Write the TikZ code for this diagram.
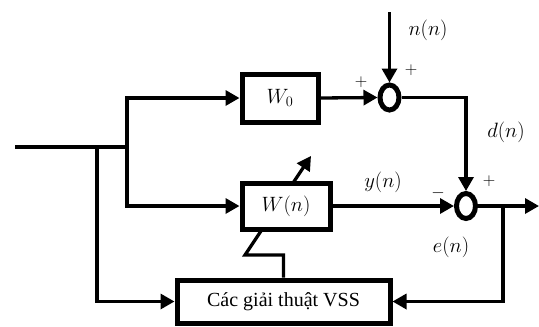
\documentclass[tikz,border=0pt]{standalone}
\usepackage{fontspec}
\setmainfont{Liberation Serif}
\usetikzlibrary{arrows.meta,shapes.geometric}
\pgfdeclarelayer{bg}
\pgfsetlayers{bg,main}

\begin{document}
\begin{tikzpicture}[x=1pt,y=-1pt,
  blk/.style={draw, line width=5pt, fill=white, inner sep=0pt,
    font=\fontsize{21}{24}\selectfont},
  sumnode/.style={draw, ellipse, line width=5pt, fill=white, inner sep=0pt,
    minimum width=19pt, minimum height=25pt},
  wire/.style={line width=3.3pt},
  arr/.style={wire, -{Triangle[length=14pt,width=15pt]}},
  lbl/.style={font=\fontsize{22}{26}\selectfont, inner sep=0pt},
  sgn/.style={font=\fontsize{18}{20}\selectfont, inner sep=0pt}
]
\useasboundingbox (0,0) rectangle (539,327);

% blocks
\node[blk, minimum width=76pt, minimum height=48pt] (w0) at (280,98) {$W_0$};
\node[blk, minimum width=88pt, minimum height=46pt] (wn) at (286,206) {$W(n)$};
\node[blk, minimum width=213pt, minimum height=43pt, font=\fontsize{20}{24}\selectfont] (vss) at (283.5,301.5) {Các giải thuật VSS};

% summing junctions
\node[sumnode] (s1) at (389.5,97.5) {};
\node[sumnode] (s2) at (466,206) {};

% helper points
\coordinate (in) at (15,147);
\coordinate (j1) at (97,147);
\coordinate (j2) at (127,147);
\coordinate (nin) at (389.5,12);
\coordinate (j3) at (503,206);
\coordinate (out) at (539,206);
\coordinate (a1) at (245,255);
\coordinate (a2) at (311,156);

% input distribution
\draw[wire] (in) -- (j2);
\draw[arr] (j2) |- (w0.west);
\draw[arr] (j2) |- (wn.west);
\draw[arr] (j1) |- (vss.west);

% reference path
\draw[arr] (w0.east) -- (s1.west);
\draw[arr] (nin) -- (s1.north);
\draw[arr] (s1.east) -| (s2.north);

% adaptive filter path
\draw[arr] (wn.east) -- (s2.west);
\draw[arr] (s2.east) -- (out);
\draw[arr] (j3) |- (vss.east);

% adaptation control, passing behind the filter block
\begin{pgfonlayer}{bg}
  \draw[arr, line join=miter] (vss.north) |- (a1) -- (a2);
\end{pgfonlayer}

% labels
\node[lbl] (ln) at (428,30) {$n(n)$};
\node[sgn] (p1) at (411,70) {$+$};
\node[sgn] (p2) at (361,82) {$+$};
\node[lbl] (ld) at (506,132) {$d(n)$};
\node[lbl] (ly) at (383,182) {$y(n)$};
\node[sgn] (m1) at (438,193) {$-$};
\node[sgn] (p3) at (489,181) {$+$};
\node[lbl] (le) at (451,247) {$e(n)$};
\end{tikzpicture}
\end{document}
